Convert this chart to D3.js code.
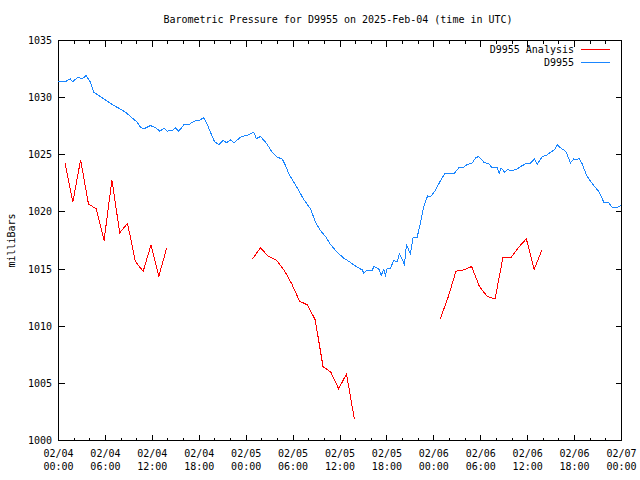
<!DOCTYPE html>
<html>
<head>
<meta charset="utf-8">
<script src="https://cdn.jsdelivr.net/npm/d3@7"></script>
<style>
  html, body { margin: 0; padding: 0; background: #fff; }
  svg { display: block; }
  text { font-family: "DejaVu Sans Mono", "Liberation Mono", monospace; font-size: 10px; fill: #000; }
</style>
</head>
<body>
<svg id="chart" width="640" height="480"></svg>
<script>
// ---- data (hours since 2025-02-04 00:00 UTC) ----
const titleText = "Barometric Pressure for D9955 on 2025-Feb-04 (time in UTC)";
const yLabel = "milliBars";
const seriesNames = ["D9955 Analysis", "D9955"];
const yTickValues = [1000, 1005, 1010, 1015, 1020, 1025, 1030, 1035];

const analysisHours = [
  0.83, 1.83, 2.83, 3.83, 4.83, 5.83, 6.83, 7.83, 8.83, 9.83, 10.83, 11.83, 12.83, 13.83, null,
  24.83, 25.83, 26.83, 27.83, 28.83, 29.83, 30.83, 31.83, 32.83, 33.83, 34.83, 35.83, 36.83, 37.83, null,
  48.83, 49.83, 50.83, 51.83, 52.83, 53.83, 54.83, 55.83, 56.83, 57.83, 58.83, 59.83, 60.83, 61.83
];
const analysisValues = [
  1024.3, 1020.85, 1024.56, 1020.7, 1020.27, 1017.5, 1022.8, 1018.17, 1019.0, 1015.66, 1014.8, 1017.12, 1014.38, 1016.83, null,
  1015.9, 1016.86, 1016.12, 1015.81, 1014.93, 1013.71, 1012.19, 1011.87, 1010.56, 1006.47, 1005.98, 1004.52, 1005.83, 1001.9, null,
  1010.65, 1012.54, 1014.81, 1014.93, 1015.22, 1013.47, 1012.6, 1012.4, 1015.98, 1015.98, 1016.9, 1017.65, 1014.96, 1016.68
];

const stationHours = [
  0, 0.9, 1.5, 1.83, 2.47, 3.03, 3.54, 4.09, 4.52, 5.16, 6.0, 6.86, 7.72, 8.57, 9.42, 10.06, 10.5, 10.9,
  11.77, 12.4, 12.96, 13.47, 13.9, 14.54, 14.96, 15.39, 16.03, 16.67, 17.3, 17.94, 18.58, 19.0, 19.44,
  19.95, 20.5, 21.06, 21.49, 22.0, 22.42, 23.28, 23.9, 24.34, 24.98, 25.3, 25.83, 26.6, 27.33, 27.97,
  28.6, 29.03, 29.46, 30.1, 30.73, 31.37, 32.23, 32.87, 33.5, 34.15, 34.79, 35.64, 36.5, 37.3, 38.2,
  38.84, 39.05, 39.4, 40.1, 40.33, 40.96, 41.27, 41.6, 41.8, 42.04, 42.4, 42.88, 43.3, 43.6, 44.25,
  44.5, 45.0, 45.36, 45.87, 46.3, 46.72, 47.2, 47.6, 48.2, 48.85, 49.4, 50.56, 51.2, 51.83, 52.27,
  52.9, 53.33, 53.75, 54.4, 55.03, 55.47, 56.1, 56.36, 56.6, 57.04, 57.4, 58.0, 58.66, 59.1, 59.73,
  60.37, 60.88, 61.22, 61.86, 62.41, 62.92, 63.43, 63.78, 64.2, 64.84, 65.0, 65.48, 65.9, 66.3, 66.55,
  66.98, 67.53, 68.04, 68.68, 69.1, 69.74, 70.38, 70.81, 71.45, 72.0
];
const stationValues = [
  1031.4, 1031.41, 1031.64, 1031.4, 1031.79, 1031.64, 1031.93, 1031.35, 1030.47, 1030.18, 1029.8, 1029.4, 1029.07, 1028.72, 1028.23, 1027.85, 1027.41, 1027.27,
  1027.56, 1027.36, 1027.07, 1027.33, 1027.07, 1027.12, 1027.36, 1027.07, 1027.62, 1027.62, 1027.94, 1028.0, 1028.23, 1027.7, 1026.97,
  1026.16, 1025.87, 1026.25, 1026.05, 1026.3, 1026.05, 1026.54, 1026.68, 1026.75, 1026.97, 1026.42, 1026.6, 1026.01, 1025.22, 1024.79,
  1024.64, 1024.06, 1023.33, 1022.6, 1021.87, 1021.08, 1020.27, 1019.1, 1018.37, 1017.85, 1017.15, 1016.47, 1015.95, 1015.6, 1015.16,
  1014.93, 1014.64, 1014.87, 1014.87, 1015.22, 1015.02, 1014.44, 1014.96, 1014.44, 1015.08, 1015.02, 1015.75, 1015.6, 1016.33, 1015.4,
  1017.15, 1016.33, 1017.79, 1017.79, 1019.1, 1020.5, 1021.4, 1021.35, 1021.87, 1022.75, 1023.33, 1023.33, 1023.86, 1023.91, 1024.15,
  1024.27, 1024.73, 1024.85, 1024.35, 1024.21, 1023.86, 1023.86, 1023.39, 1023.85, 1023.48, 1023.7, 1023.62, 1023.77, 1023.97, 1024.21,
  1024.27, 1024.65, 1024.15, 1024.85, 1024.94, 1025.22, 1025.43, 1025.87, 1025.61, 1025.31, 1025.1, 1024.29, 1024.65, 1024.55, 1024.73,
  1024.21, 1023.18, 1022.69, 1022.11, 1021.81, 1020.85, 1020.79, 1020.41, 1020.41, 1020.56
];

const startTime = Date.UTC(2025, 1, 4, 0, 0);
const endTime = Date.UTC(2025, 1, 7, 0, 0);

// ---- layout ----
const svg = d3.select("#chart");
const L = 58.5, R = 621.5, T = 40.5, B = 440.5;

const x = d3.scaleUtc().domain([new Date(startTime), new Date(endTime)]).range([L, R]);
const y = d3.scaleLinear().domain([1000, 1035]).range([B, T]);
const hourToDate = h => new Date(startTime + h * 3600000);

// title
svg.append("text").attr("x", (L + R) / 2 - 2).attr("y", 23).attr("text-anchor", "middle").text(titleText);

// y label
svg.append("text").attr("transform", `translate(15,${(T + B) / 2}) rotate(-90)`)
  .attr("text-anchor", "middle").text(yLabel);

// ticks
const majorX = x.ticks(d3.utcHour.every(6));
const minorX = x.ticks(d3.utcHour.every(2)).filter(d => d.getUTCHours() % 6 !== 0);
const g = svg.append("g").attr("stroke", "#000").attr("stroke-width", 1).attr("shape-rendering", "crispEdges");
majorX.forEach(d => {
  const xx = Math.round(x(d) - 0.5) + 0.5;
  g.append("line").attr("x1", xx).attr("x2", xx).attr("y1", B).attr("y2", B - 6);
  g.append("line").attr("x1", xx).attr("x2", xx).attr("y1", T).attr("y2", T + 6);
});
minorX.forEach(d => {
  const xx = Math.round(x(d) - 0.5) + 0.5;
  g.append("line").attr("x1", xx).attr("x2", xx).attr("y1", B).attr("y2", B - 3);
  g.append("line").attr("x1", xx).attr("x2", xx).attr("y1", T).attr("y2", T + 3);
});
yTickValues.forEach(v => {
  const yy = Math.round(y(v) - 0.5) + 0.5;
  g.append("line").attr("x1", L).attr("x2", L + 6).attr("y1", yy).attr("y2", yy);
  g.append("line").attr("x1", R).attr("x2", R - 6).attr("y1", yy).attr("y2", yy);
});

// tick labels
const fmtDate = d3.utcFormat("%m/%d"), fmtTime = d3.utcFormat("%H:%M");
majorX.forEach(d => {
  svg.append("text").attr("x", x(d)).attr("y", 457).attr("text-anchor", "middle").text(fmtDate(d));
  svg.append("text").attr("x", x(d)).attr("y", 470).attr("text-anchor", "middle").text(fmtTime(d));
});
yTickValues.forEach(v => {
  svg.append("text").attr("x", 52).attr("y", y(v) + 3.5).attr("text-anchor", "end").text(v);
});

// frame
g.append("rect").attr("x", L).attr("y", T).attr("width", R - L).attr("height", B - T).attr("fill", "none");

// lines
const colors = ["#ff0000", "#1a86ff"];
const line = d3.line().defined(d => d[0] != null && d[1] != null)
  .x(d => x(hourToDate(d[0]))).y(d => y(d[1]));
const analysisData = analysisHours.map((h, i) => [h, analysisValues[i]]);
const stationData = stationHours.map((h, i) => [h, stationValues[i]]);

svg.append("path").attr("d", line(stationData)).attr("fill", "none")
  .attr("stroke", colors[1]).attr("stroke-width", 1).attr("shape-rendering", "crispEdges");
svg.append("path").attr("d", line(analysisData)).attr("fill", "none")
  .attr("stroke", colors[0]).attr("stroke-width", 1).attr("shape-rendering", "crispEdges");

// legend
seriesNames.forEach((name, i) => {
  const yy = 49.5 + i * 13;
  svg.append("text").attr("x", 574).attr("y", yy + 3.5).attr("text-anchor", "end").text(name);
  svg.append("line").attr("x1", 581).attr("x2", 610).attr("y1", yy).attr("y2", yy)
    .attr("stroke", colors[i]).attr("stroke-width", 1).attr("shape-rendering", "crispEdges");
});
</script>
</body>
</html>
